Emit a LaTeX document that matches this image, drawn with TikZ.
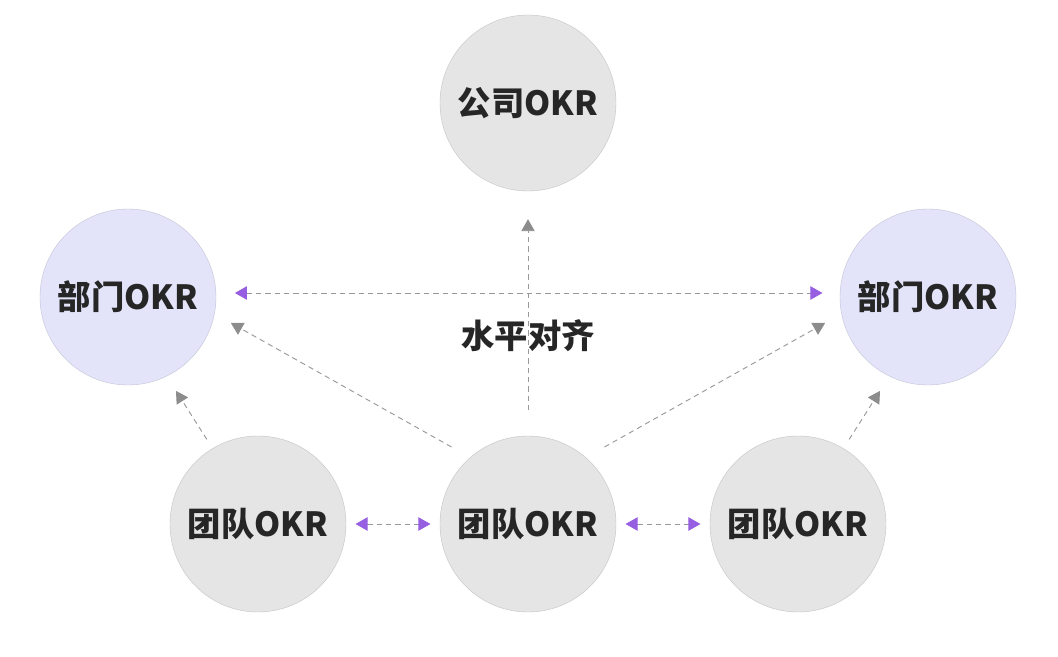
\documentclass[tikz,border=0pt]{standalone}
\usepackage{fontspec}
\newfontfamily\cjk{Noto Sans CJK SC}
\usepackage{tikz}
\usetikzlibrary{arrows.meta, positioning}

\begin{document}
\begin{tikzpicture}[x=0.75pt, y=-0.75pt,
    okr/.style={circle, minimum size=132pt, inner sep=0pt, fill=#1, draw=#1!85!black, line width=0.3pt,
        font=\cjk\bfseries\fontsize{25}{30}\selectfont, text=black!85},
    okr/.default=gray!20,
    align line/.style={dashed, dash pattern=on 4pt off 3pt, line width=0.7pt, draw=gray!80},
    up arrow/.style={align line, -{Triangle[length=9pt, width=10pt, color=gray!90]}},
    both arrow/.style={align line,
        {Triangle[length=9pt, width=10pt, color=tipviolet]}-{Triangle[length=9pt, width=10pt, color=tipviolet]}}]
    \definecolor{bumen}{RGB}{227,228,250}
    \definecolor{tuandui}{RGB}{229,229,229}
    \definecolor{tipviolet}{RGB}{150,95,225}
    \useasboundingbox (0,0) rectangle (1058,657);

    % 1. Các vòng tròn OKR
    \node[okr=tuandui] (gongsi) at (528,103) {公司OKR};
    \node[okr=bumen] (bumenL) at (128,297) {部门OKR};
    \node[okr=bumen] (bumenR) at (928,297) {部门OKR};
    \node[okr=tuandui] (tuanL) at (258,524) {团队OKR};
    \node[okr=tuandui] (tuanC) at (528,524) {团队OKR};
    \node[okr=tuandui] (tuanR) at (798,524) {团队OKR};

    % 2. Nhãn ở giữa
    \node[font=\cjk\bfseries\fontsize{25}{30}\selectfont, text=black!85] (shuiping) at (528,336) {水平对齐};

    % 3. Mũi tên hướng lên
    \draw[up arrow, shorten <=19pt, shorten >=21pt] (tuanC.90) -- (gongsi.-90);
    \draw[up arrow, shorten <=16pt, shorten >=14pt] (tuanC.131) -- (bumenL.-11);
    \draw[up arrow, shorten <=16pt, shorten >=14pt] (tuanC.49) -- (bumenR.191);
    \draw[up arrow, shorten <=8pt, shorten >=13pt] (tuanL.121) -- (bumenL.-64);
    \draw[up arrow, shorten <=8pt, shorten >=13pt] (tuanR.59) -- (bumenR.-116);

    % 4. Mũi tên hai chiều (căn chỉnh ngang)
    \draw[both arrow, shorten <=14pt, shorten >=13pt] ([yshift=3pt]bumenL.east) -- ([yshift=3pt]bumenR.west);
    \draw[both arrow, shorten <=7pt, shorten >=7pt] (tuanL.0) -- (tuanC.180);
    \draw[both arrow, shorten <=7pt, shorten >=7pt] (tuanC.0) -- (tuanR.180);
\end{tikzpicture}
\end{document}
